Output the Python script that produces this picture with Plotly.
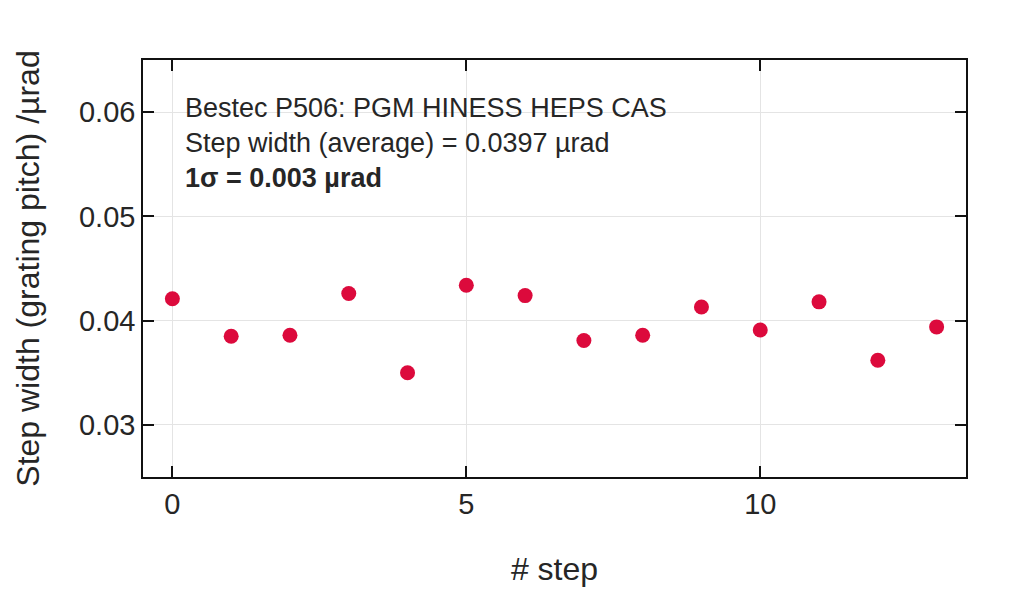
import plotly.graph_objects as go

steps = list(range(14))
step_width = [0.0421, 0.0385, 0.0386, 0.0426, 0.0350, 0.0434, 0.0424,
              0.0381, 0.0386, 0.0413, 0.0391, 0.0418, 0.0362, 0.0394]
x_ticks = [0, 5, 10]
y_ticks = [0.03, 0.04, 0.05, 0.06]
info_lines = ["Bestec P506: PGM HINESS HEPS CAS",
              "Step width (average) = 0.0397 µrad",
              "<b>1σ = 0.003 µrad</b>"]

font = "Liberation Sans, Arial, sans-serif"

fig = go.Figure()
fig.add_trace(go.Scatter(x=steps, y=step_width, mode="markers",
                         marker=dict(color="#dc0a3c", size=15, line=dict(width=0)),
                         showlegend=False))

fig.add_annotation(xref="paper", yref="paper", x=0.048, y=0.925,
                   xanchor="left", yanchor="top", align="left",
                   text="<br>".join(info_lines), showarrow=False,
                   font=dict(family=font, size=27, color="#262626"))

axis_common = dict(showline=True, linecolor="#111", linewidth=1.5, mirror="ticks",
                   ticks="inside", ticklen=11, tickwidth=1.5, tickcolor="#111",
                   showgrid=True, gridcolor="#e4e4e4", gridwidth=1, zeroline=False,
                   tickfont=dict(family=font, size=29, color="#262626"))

fig.update_xaxes(range=[-0.5, 13.5], tickvals=x_ticks, automargin=False,
                 title=dict(text="# step", font=dict(family=font, size=32, color="#262626"), standoff=39),
                 **axis_common)
fig.update_yaxes(range=[0.025, 0.065], tickvals=y_ticks, tickformat=".2f", automargin=False,
                 title=dict(text="Step width (grating pitch) /µrad", font=dict(family=font, size=32, color="#262626"), standoff=30),
                 **axis_common)

fig.update_layout(width=1024, height=589, plot_bgcolor="white", paper_bgcolor="white",
                  margin=dict(l=135, r=66, t=52, b=120))

fig.write_html("out.html")
